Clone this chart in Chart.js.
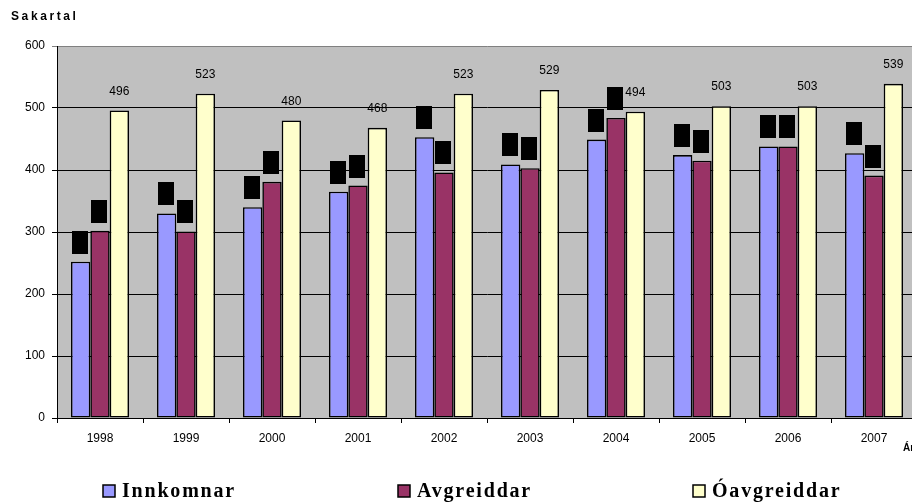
<!DOCTYPE html>
<html>
<head>
<meta charset="utf-8">
<script src="https://cdn.jsdelivr.net/npm/chart.js@4.4.1/dist/chart.umd.min.js"></script>
<style>
  html, body { margin: 0; padding: 0; background: #fff; overflow: hidden; }
  #wrap { width: 925px; height: 503px; }
</style>
</head>
<body>
<div id="wrap"><canvas id="chart__1" width="925" height="503"></canvas></div>
<script>
"use strict";

const years = ["1998", "1999", "2000", "2001", "2002", "2003", "2004", "2005", "2006", "2007"];
const innkomnar = [252, 330, 340, 365, 453, 409, 449, 424, 438, 427];
const avgreiddar = [302, 301, 381, 375, 396, 403, 484, 415, 438, 391];
const oavgreiddar = [496, 523, 480, 468, 523, 529, 494, 503, 503, 539];
const seriesNames = ["Innkomnar", "Avgreiddar", "Óavgreiddar"];
const yTicks = [0, 100, 200, 300, 400, 500, 600];

const colors = ["#9999FF", "#993366", "#FFFFCC"];

// grey plot background
const plotBackground = {
  id: "plotBackground",
  beforeDraw(chart) {
    const { ctx, chartArea: a } = chart;
    ctx.save();
    ctx.fillStyle = "#C0C0C0";
    ctx.fillRect(a.left, a.top, a.right - a.left, a.bottom - a.top);
    ctx.restore();
  },
};

// value labels, title, axis title and legend
const extras = {
  id: "extras",
  afterDatasetsDraw(chart) {
    const ctx = chart.ctx;
    ctx.save();
    // the first two series show black label boxes
    [0, 1].forEach((i) => {
      chart.getDatasetMeta(i).data.forEach((bar) => {
        ctx.fillStyle = "#000";
        ctx.fillRect(Math.round(bar.x - 9), Math.round(bar.y - 31), 16, 23);
      });
    });
    ctx.font = "12px 'Liberation Sans', Arial, sans-serif";
    ctx.fillStyle = "#000";
    ctx.textAlign = "center";
    ctx.textBaseline = "middle";
    chart.getDatasetMeta(2).data.forEach((bar, j) => {
      ctx.fillText(String(oavgreiddar[j]), bar.x, bar.y - 19);
    });
    ctx.restore();
  },
  afterDraw(chart) {
    const { ctx, chartArea: a } = chart;
    ctx.save();
    ctx.fillStyle = "#000";
    ctx.textBaseline = "middle";
    ctx.textAlign = "left";
    ctx.font = "bold 12px 'Liberation Sans', Arial, sans-serif";
    ctx.letterSpacing = "2.6px";
    ctx.fillText("Sakartal", 11, 17);
    ctx.letterSpacing = "0px";
    ctx.font = "bold 10px 'Liberation Sans', Arial, sans-serif";
    ctx.fillText("Ár", a.right - 14, a.bottom + 30);

    // legend
    ctx.font = "bold 20px 'Liberation Serif', 'Times New Roman', serif";
    ctx.letterSpacing = "1.8px";
    const y = 491;
    seriesNames.forEach((name, i) => {
      const x = 103 + i * 295;
      ctx.fillStyle = colors[i];
      ctx.fillRect(x, y - 6, 12, 12);
      ctx.strokeStyle = "#000";
      ctx.lineWidth = 1.5;
      ctx.strokeRect(x, y - 6, 12, 12);
      ctx.fillStyle = "#000";
      ctx.fillText(name, x + 19, y + 1);
    });
    ctx.restore();
  },
};

const chartConfig = {
  type: "bar",
  data: {
    labels: years,
    datasets: [innkomnar, avgreiddar, oavgreiddar].map((values, i) => ({
      label: seriesNames[i],
      data: values,
      backgroundColor: colors[i],
      borderColor: "#000",
      borderWidth: 1.6,
      borderSkipped: false,
      categoryPercentage: 0.675,
      barPercentage: 1,
    })),
  },
  options: {
    responsive: false,
    animation: false,
    layout: { padding: { left: 0, top: 46, right: 8, bottom: 0 } },
    plugins: {
      legend: { display: false },
      tooltip: { enabled: false },
      title: { display: false },
    },
    scales: {
      x: {
        grid: {
          display: true,
          drawOnChartArea: false,
          drawTicks: true,
          tickLength: 5,
          color: "#000",
        },
        border: { color: "#000", width: 1 },
        ticks: {
          color: "#000",
          padding: 8,
          font: { family: "'Liberation Sans', Arial, sans-serif", size: 12 },
        },
        afterFit(scale) {
          scale.height = 85;
        },
      },
      y: {
        min: 0,
        max: 600,
        afterBuildTicks(scale) {
          scale.ticks = yTicks.map((v) => ({ value: v }));
        },
        grid: {
          color: (c) => (c.tick && c.tick.value === 600 ? "#808080" : "#000"),
          lineWidth: 1,
          tickLength: 5,
        },
        border: { color: "#000", width: 1 },
        ticks: {
          color: "#000",
          padding: 7,
          font: { family: "'Liberation Sans', Arial, sans-serif", size: 12 },
        },
        afterFit(scale) {
          scale.width = 57;
        },
      },
    },
  },
  plugins: [plotBackground, extras],
};

const chart__1 = new Chart(document.getElementById("chart__1").getContext("2d"), chartConfig);
</script>
</body>
</html>
